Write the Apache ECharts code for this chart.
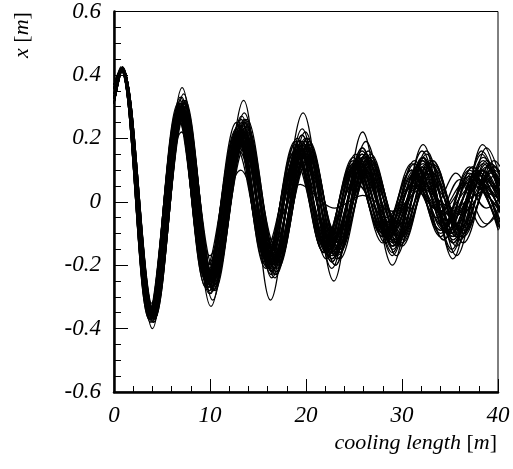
<!DOCTYPE html>
<html>
<head>
<meta charset="utf-8">
<script src="https://cdn.jsdelivr.net/npm/echarts@6/dist/echarts.min.js"></script>
<style>
html,body{margin:0;padding:0;background:#fff;}
#chart{width:513px;height:469px;}
</style>
</head>
<body>
<div id="chart"></div>
<script>
// axis ticks
const xTicks = [0, 10, 20, 30, 40];
const yTicks = [-0.6, -0.4, -0.2, 0, 0.2, 0.4, 0.6];

// cooling-length positions (m): start, successive extrema, and the next extremum past 40 m
const xT1 = [0,.8,3.95,7.05,10.05,13.3,16.45,19.6,22.7,25.85,29.0,32.1,35.2,38.3,41.4];
const xT2 = [0,.88,4.13,7.26,10.29,13.57,16.75,19.93,23.06,26.24,29.42,32.55,35.68,38.81,41.94];
const xT3 = [0,.72,3.77,6.84,9.81,13.03,16.15,19.27,22.34,25.46,28.58,31.65,34.72,37.79,40.86];
const xT4 = [0,.85,4.12,7.29,10.36,13.68,16.9,20.12,23.29,26.51,29.73,32.9,36.07,39.24,42.41];
const xT5 = [0,.75,3.78,6.81,9.74,12.92,16.0,19.08,22.11,25.19,28.27,31.3,34.33,37.36,40.39];
const xT6 = [0,.9,4.24,7.43,10.52,13.86,17.1,20.34,23.53,26.77,30.01,33.2,36.39,39.58,42.77];
const xT7 = [0,.7,3.66,6.67,9.58,12.74,15.8,18.86,21.87,24.93,27.99,31.0,34.01,37.02,40.03];
const xT8 = [0,.9,4.12,7.19,10.16,13.38,16.5,19.62,22.69,25.81,28.93,32.0,35.07,38.14,41.21];
const xT9 = [0,.7,3.78,6.91,9.94,13.22,16.4,19.58,22.71,25.89,29.07,32.2,35.33,38.46,41.59];
const xRun08 = [0,.8,3.9,7.05,10.0,13.2,16.3,19.4,23.0,25.9,29.0,32.1,35.3,38.4,41.5];
const xRun09 = [0,.85,4.0,7.1,10.1,13.5,16.3,19.7,22.9,25.9,29.0,32.2,35.3,38.4,41.5];
const xRun46 = [0,.8,3.95,7.05,10.05,13.3,16.45,19.6,22.7,25.85,28.6,31.2,33.6,36.0,38.8,41.5];
const xRun47 = [0,.75,3.78,6.81,9.74,12.92,16.0,19.08,22.11,25.19,28.4,31.8,34.0,36.5,38.8,41.2];
const xRun48 = [0,.88,4.13,7.26,10.29,13.57,16.75,19.93,23.06,26.24,29.3,31.5,33.3,35.6,38.4,41.5];

// transverse position x (m) at those points, one list per trajectory
const run01 = [.34,.42,-.36,.30,-.26,.23,-.20,.17,-.16,.13,-.12,.11,-.10,.10,-.09];
const run02 = [.325,.425,-.37,.31,-.27,.25,-.21,.19,-.17,.15,-.13,.12,-.11,.11,-.10];
const run03 = [.36,.42,-.35,.29,-.25,.22,-.19,.16,-.15,.12,-.11,.10,-.09,.09,-.08];
const run04 = [.33,.42,-.37,.32,-.28,.26,-.23,.20,-.18,.16,-.14,.13,-.12,.12,-.11];
const run05 = [.355,.415,-.35,.28,-.24,.21,-.18,.15,-.14,.12,-.10,.10,-.09,.09,-.08];
const run06 = [.31,.42,-.36,.30,-.26,.22,-.20,.18,-.15,.13,-.11,.12,-.10,.10,-.09];
const run07 = [.37,.42,-.36,.29,-.25,.22,-.18,.16,-.14,.12,-.11,.10,-.10,.09,-.08];
const run08 = [.33,.41,-.32,.22,-.17,.10,-.12,.055,-.02,.02,-.03,.04,-.02,.03,-.02];
const run09 = [.34,.425,-.40,.36,-.33,.32,-.31,.28,-.25,.22,-.20,.18,-.18,.18,-.16];
const run10 = [.31,.42,-.36,.29,-.24,.21,-.18,.15,-.14,.09,-.07,.07,-.06,.06,-.05];
const run11 = [.37,.42,-.37,.31,-.28,.24,-.21,.19,-.18,.14,-.13,.12,-.11,.10,-.10];
const run12 = [.33,.42,-.36,.29,-.25,.22,-.19,.17,-.15,.14,-.12,.10,-.08,.09,-.08];
const run13 = [.355,.415,-.34,.27,-.22,.20,-.17,.15,-.11,.06,-.05,.05,-.04,.05,-.04];
const run14 = [.34,.42,-.38,.33,-.29,.27,-.24,.23,-.21,.17,-.16,.16,-.15,.15,-.13];
const run15 = [.37,.42,-.36,.30,-.27,.23,-.20,.18,-.16,.13,-.10,.10,-.09,.08,-.07];
const run16 = [.31,.42,-.37,.31,-.26,.24,-.19,.19,-.18,.15,-.14,.13,-.13,.13,-.11];
const run17 = [.325,.42,-.35,.28,-.24,.20,-.18,.14,-.13,.10,-.08,.09,-.07,.07,-.06];
const run18 = [.36,.42,-.36,.29,-.26,.22,-.21,.18,-.17,.13,-.12,.11,-.10,.09,-.08];
const run19 = [.34,.42,-.37,.30,-.25,.25,-.22,.21,-.19,.16,-.17,.14,-.16,.16,-.14];
const run20 = [.33,.42,-.36,.29,-.25,.21,-.17,.12,-.10,.09,-.07,.06,-.04,.05,-.04];
const run21 = [.355,.42,-.35,.28,-.23,.19,-.16,.13,-.14,.11,-.11,.12,-.12,.11,-.10];
const run22 = [.325,.425,-.38,.32,-.28,.26,-.23,.20,-.20,.15,-.14,.15,-.17,.17,-.15];
const run23 = [.36,.42,-.37,.31,-.27,.24,-.21,.19,-.17,.14,-.11,.10,-.06,.07,-.06];
const run24 = [.31,.415,-.34,.26,-.23,.18,-.15,.11,-.12,.10,-.09,.10,-.10,.10,-.09];
const run25 = [.31,.42,-.36,.30,-.26,.23,-.20,.17,-.15,.12,-.13,.13,-.11,.11,-.10];
const run26 = [.37,.42,-.37,.29,-.25,.21,-.18,.16,-.16,.12,-.10,.05,-.03,.06,-.02];
const run27 = [.37,.42,-.36,.30,-.26,.22,-.19,.16,-.14,.11,-.08,.06,-.05,.07,-.07];
const run28 = [.36,.42,-.36,.29,-.25,.22,-.19,.17,-.15,.13,-.12,.11,-.10,.10,-.09];
const run29 = [.355,.42,-.36,.30,-.26,.24,-.21,.20,-.18,.15,-.13,.13,-.12,.11,-.10];
const run30 = [.33,.42,-.37,.31,-.28,.25,-.22,.20,-.17,.14,-.12,.12,-.11,.12,-.10];
const run31 = [.325,.42,-.38,.34,-.31,.28,-.24,.22,-.20,.19,-.17,.16,-.14,.13,-.12];
const run32 = [.37,.415,-.35,.27,-.21,.17,-.15,.13,-.13,.11,-.11,.10,-.09,.10,-.08];
const run33 = [.34,.42,-.36,.28,-.23,.20,-.19,.18,-.17,.15,-.14,.13,-.11,.10,-.09];
const run34 = [.31,.42,-.35,.28,-.22,.19,-.16,.14,-.13,.11,-.10,.09,-.10,.11,-.10];
const run35 = [.37,.425,-.38,.33,-.29,.26,-.23,.21,-.19,.17,-.15,.14,-.13,.13,-.12];
const run36 = [.31,.42,-.36,.30,-.27,.24,-.20,.16,-.14,.12,-.11,.11,-.10,.09,-.08];
const run37 = [.36,.415,-.34,.25,-.20,.16,-.14,.12,-.11,.09,-.08,.08,-.07,.07,-.06];
const run38 = [.325,.42,-.36,.30,-.25,.23,-.20,.18,-.17,.14,-.12,.11,-.11,.12,-.11];
const run39 = [.37,.42,-.37,.32,-.28,.26,-.22,.19,-.18,.14,-.14,.13,-.12,.12,-.10];
const run40 = [.37,.42,-.37,.31,-.27,.25,-.21,.19,-.16,.14,-.13,.12,-.11,.11,-.09];
const run41 = [.31,.42,-.37,.32,-.28,.26,-.21,.18,-.16,.14,-.12,.11,-.09,.08,-.07];
const run42 = [.355,.42,-.36,.30,-.26,.22,-.19,.16,-.15,.13,-.11,.09,-.08,.08,-.07];
const run43 = [.33,.42,-.35,.27,-.23,.19,-.17,.15,-.14,.12,-.11,.10,-.09,.10,-.09];
const run44 = [.31,.42,-.36,.29,-.25,.21,-.18,.14,-.13,.12,-.10,.09,-.09,.09,-.08];
const run45 = [.37,.42,-.36,.31,-.27,.23,-.20,.18,-.16,.15,-.14,.14,-.13,.14,-.12];
const run46 = [.34,.42,-.36,.30,-.26,.22,-.19,.16,-.14,.11,-.08,.06,-.05,.07,-.07,.06];
const run47 = [.355,.42,-.37,.29,-.25,.21,-.18,.16,-.16,.12,-.10,.05,-.03,.06,-.02,.05];
const run48 = [.325,.42,-.36,.29,-.25,.22,-.19,.17,-.15,.12,-.13,.07,-.02,.09,-.08,.07];

const trajectories = [
  [xT1, run01], [xT2, run02], [xT3, run03], [xT4, run04], [xT5, run05],
  [xT6, run06], [xT7, run07], [xRun08, run08], [xRun09, run09], [xT8, run10],
  [xT9, run11], [xT4, run12], [xT5, run13], [xT1, run14], [xT7, run15],
  [xT6, run16], [xT2, run17], [xT3, run18], [xT1, run19], [xT4, run20],
  [xT5, run21], [xT2, run22], [xT3, run23], [xT8, run24], [xT6, run25],
  [xT7, run26], [xT9, run27], [xT3, run28], [xT5, run29], [xT4, run30],
  [xT2, run31], [xT7, run32], [xT1, run33], [xT6, run34], [xT9, run35],
  [xT8, run36], [xT3, run37], [xT2, run38], [xT9, run39], [xT7, run40],
  [xT6, run41], [xT5, run42], [xT4, run43], [xT8, run44], [xT9, run45],
  [xRun46, run46], [xRun47, run47], [xRun48, run48]
];

const FONT = '"Liberation Serif", "Times New Roman", serif';
const chart = echarts.init(document.getElementById('chart'), null, {renderer: 'canvas'});

chart.setOption({
  animation: false,
  backgroundColor: '#fff',
  grid: {left: 114, right: 15, top: 7, bottom: 77, show: true, borderColor: '#000', borderWidth: 1, backgroundColor: 'transparent'},
  xAxis: {
    type: 'value', min: xTicks[0], max: xTicks[xTicks.length - 1], interval: 10,
    axisLine: {show: true, onZero: false, lineStyle: {color: '#000', width: 2.5}},
    axisTick: {show: true, inside: true, length: 13, lineStyle: {color: '#000', width: 1}},
    minorTick: {show: true, splitNumber: 5, length: 6, lineStyle: {color: '#000', width: 1}},
    splitLine: {show: false},
    axisLabel: {margin: 12, color: '#000', fontFamily: FONT, fontStyle: 'italic', fontSize: 23}
  },
  yAxis: {
    type: 'value', min: yTicks[0], max: yTicks[yTicks.length - 1], interval: 0.2,
    axisLine: {show: true, onZero: false, lineStyle: {color: '#000', width: 2.5}},
    axisTick: {show: true, inside: true, length: 14, lineStyle: {color: '#000', width: 1}},
    minorTick: {show: true, splitNumber: 4, length: 7, lineStyle: {color: '#000', width: 1}},
    splitLine: {show: false},
    axisLabel: {margin: 13, color: '#000', fontFamily: FONT, fontStyle: 'italic', fontSize: 23}
  },
  graphic: [
    {type: 'text', right: 16, top: 432,
     style: {text: '{i|cooling length} [{i|m}]', fill: '#000', font: '22px ' + FONT,
       rich: {i: {fontStyle: 'italic', fontFamily: FONT, fontSize: 22, fill: '#000'}}}},
    {type: 'text', x: 22, y: 35, rotation: Math.PI / 2,
     style: {text: '{i|x} [{i|m}]', fill: '#000', font: '22px ' + FONT, align: 'center', verticalAlign: 'middle',
       rich: {i: {fontStyle: 'italic', fontFamily: FONT, fontSize: 22, fill: '#000'}}}}
  ],
  series: trajectories.map(function (t, i) {
    const xs = t[0], ys = t[1];
    return {
      type: 'line', name: 'run' + (i + 1),
      data: ys.map(function (y, j) { return [xs[j], y]; }),
      showSymbol: false, symbol: 'none', clip: true,
      smooth: 0.36, lineStyle: {color: '#000', width: 1.3}, silent: true, z: 2
    };
  })
});
</script>
</body>
</html>
